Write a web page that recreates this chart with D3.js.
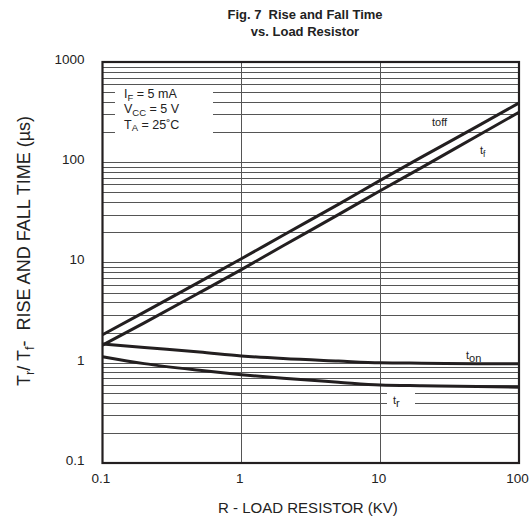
<!DOCTYPE html>
<html>
    <head>
        <meta charset="utf-8">
        <title>Fig. 7 Rise and Fall Time vs. Load Resistor</title>
        <style>
            body { margin: 0; background: #fff; }
            svg text { font-family: "Liberation Sans", Arial, sans-serif; fill: #222; }
            svg .grid { stroke: #555; stroke-width: 1; shape-rendering: crispEdges; }
            svg .curve { fill: none; stroke: #231f20; stroke-width: 3; }
            svg .frame { fill: none; stroke: #231f20; stroke-width: 2.2; }
        </style>
    </head>
    <body>
        <svg class="drawing"></svg>
        <script src="https://cdn.jsdelivr.net/npm/d3@7"></script>
        <script>
            var w = 530;
            var h = 521;

            // load resistor, kOhm
            var resistance = [0.1, 0.2, 0.5, 1, 2, 5, 10, 20, 50, 100];
            // times in us
            var toff = [1.9, 3.2, 6.4, 10.9, 18.7, 38, 66, 113, 228, 390];
            var tf   = [1.5, 2.5, 5.0, 8.5, 14.7, 30, 52, 89, 183, 315];
            var ton  = [1.54, 1.42, 1.28, 1.17, 1.1, 1.04, 1.0, 0.99, 0.98, 0.98];
            var tr   = [1.15, 0.98, 0.84, 0.76, 0.7, 0.64, 0.6, 0.59, 0.58, 0.57];

            var xTicks = [0.1, 1, 10, 100];
            var yTicks = [0.1, 1, 10, 100, 1000];
            var legendLines = [["I", "F", " = 5 mA"], ["V", "CC", " = 5 V"], ["T", "A", " = 25˚C"]];

            // plot box (window.top is taken, hence the names)
            var pLeft = 102.5, pRight = 519, pTop = 62, pBottom = 463;

            var x = d3.scaleLog().domain([0.1, 100]).range([pLeft, pRight]);
            var y = d3.scaleLog().domain([0.1, 1000]).range([pBottom, pTop]);

            var svg = d3.select('.drawing')
                .attr('width', w)
                .attr('height', h);

            // horizontal grid: every 1..9 of each decade
            svg.append('g')
                .selectAll('line')
                .data(y.ticks().filter(v => v > 0.1 && v < 1000))
                .enter()
                    .append('line')
                    .attr('class', 'grid')
                    .attr('x1', pLeft)
                    .attr('x2', pRight)
                    .attr('y1', d => Math.round(y(d)) + 0.5)
                    .attr('y2', d => Math.round(y(d)) + 0.5);

            // vertical grid only on decades
            svg.append('g')
                .selectAll('line')
                .data([1, 10])
                .enter()
                    .append('line')
                    .attr('class', 'grid')
                    .attr('x1', d => Math.round(x(d)) + 0.5)
                    .attr('x2', d => Math.round(x(d)) + 0.5)
                    .attr('y1', pTop)
                    .attr('y2', pBottom);

            var series = [
                {name: 'toff', values: toff},
                {name: 'tf', values: tf},
                {name: 'ton', values: ton},
                {name: 'tr', values: tr}
            ];

            var line = d3.line()
                .x(d => x(d[0]))
                .y(d => y(d[1]))
                .curve(d3.curveMonotoneX);

            svg.append('g')
                .selectAll('path')
                .data(series)
                .enter()
                    .append('path')
                    .attr('class', 'curve')
                    .attr('d', s => line(resistance.map((r, i) => [r, s.values[i]])));

            // legend box hides the grid behind it
            svg.append('rect')
                .attr('x', 115).attr('y', 85)
                .attr('width', 98).attr('height', 50)
                .attr('fill', '#fff');

            var leg = svg.append('g')
                .selectAll('text')
                .data(legendLines)
                .enter()
                    .append('text')
                    .attr('x', 124)
                    .attr('y', (d, i) => 98 + i * 15.3)
                    .attr('font-size', 12.5);
            leg.append('tspan').text(d => d[0]);
            leg.append('tspan').attr('font-size', 9.5).attr('dy', 2.5).text(d => d[1]);
            leg.append('tspan').attr('dy', -2.5).text(d => d[2]);

            // curve labels
            svg.append('text')
                .attr('x', 432).attr('y', 126)
                .attr('font-size', 11)
                .text('toff');

            var lf = svg.append('text').attr('x', 480).attr('y', 154).attr('font-size', 11);
            lf.append('tspan').text('t');
            lf.append('tspan').attr('font-size', 8.5).attr('dy', 2.5).text('f');

            var lon = svg.append('text').attr('x', 466).attr('y', 359).attr('font-size', 11);
            lon.append('tspan').text('t');
            lon.append('tspan').attr('font-size', 11).attr('dy', 2.5).text('on');

            svg.append('rect')
                .attr('x', 387).attr('y', 391)
                .attr('width', 28).attr('height', 16)
                .attr('fill', '#fff');
            var lr = svg.append('text').attr('x', 393).attr('y', 404).attr('font-size', 11);
            lr.append('tspan').text('t');
            lr.append('tspan').attr('font-size', 11).attr('dy', 3).text('r');

            // frame
            svg.append('rect')
                .attr('class', 'frame')
                .attr('x', pLeft).attr('y', pTop)
                .attr('width', pRight - pLeft).attr('height', pBottom - pTop);

            // axes (labels only)
            var yAxis = svg.append('g')
                .attr('transform', 'translate(' + pLeft + ',0)')
                .call(d3.axisLeft(y).tickValues(yTicks).tickFormat(d3.format('~g')).tickSize(0).tickPadding(18));
            var xAxis = svg.append('g')
                .attr('transform', 'translate(0,' + pBottom + ')')
                .call(d3.axisBottom(x).tickValues(xTicks).tickFormat(d3.format('~g')).tickSize(0).tickPadding(10));
            [yAxis, xAxis].forEach(function(g) {
                g.select('.domain').remove();
                g.attr('font-family', null).attr('font-size', null);
                g.selectAll('text').attr('font-size', 13.5).attr('fill', '#222');
            });
            yAxis.selectAll('text').attr('dy', '0.1em');
            xAxis.selectAll('text').attr('dx', -2);

            // titles
            var title = svg.append('text')
                .attr('text-anchor', 'middle')
                .attr('font-size', 13)
                .attr('font-weight', 'bold');
            title.append('tspan').attr('x', 305).attr('y', 19).text('Fig. 7\u00a0\u00a0Rise and Fall Time');
            title.append('tspan').attr('x', 305).attr('y', 36).text('vs. Load Resistor');

            svg.append('text')
                .attr('x', 308).attr('y', 513)
                .attr('text-anchor', 'middle')
                .attr('font-size', 15)
                .text('R - LOAD RESISTOR (KV)');

            var yl = svg.append('text')
                .attr('transform', 'translate(30,251) rotate(-90)')
                .attr('text-anchor', 'middle')
                .attr('font-size', 18);
            yl.append('tspan').text('T');
            yl.append('tspan').attr('font-size', 13).attr('dy', 3.5).text('r');
            yl.append('tspan').attr('dy', -3.5).text('/ T');
            yl.append('tspan').attr('font-size', 13).attr('dy', 3.5).text('f');
            yl.append('tspan').attr('dy', -3.5).text('-\u00a0\u00a0RISE AND FALL TIME (µs)');
        </script>
    </body>
</html>
